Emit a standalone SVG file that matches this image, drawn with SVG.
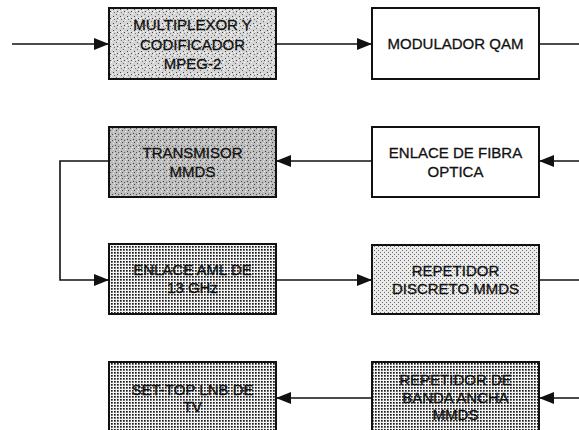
<svg xmlns="http://www.w3.org/2000/svg" width="579" height="430" viewBox="0 0 579 430">
<style>
.box{stroke:#111;stroke-width:2}
.t{font-family:"Liberation Sans",Arial,sans-serif;font-size:15px;fill:#111;stroke:#111;stroke-width:0.3;text-anchor:middle}
.c{fill:none;stroke:#111;stroke-width:1.6}
</style>
<defs>
<pattern id="stip1" width="7" height="7" patternUnits="userSpaceOnUse">
<rect width="7" height="7" fill="#d6d6d6"/>
<rect x="1" y="2" width="1" height="1" fill="#444"/>
<rect x="4" y="0" width="1" height="1" fill="#666"/>
<rect x="5" y="4" width="1" height="1" fill="#444"/>
<rect x="2" y="5" width="1" height="1" fill="#777"/>
<rect x="6" y="6" width="1" height="1" fill="#fff"/>
<rect x="0" y="4" width="1" height="1" fill="#fff"/>
<rect x="3" y="3" width="1" height="1" fill="#fff"/>
</pattern>
<pattern id="stip2" width="6" height="6" patternUnits="userSpaceOnUse">
<rect width="6" height="6" fill="#bdbdbd"/>
<rect x="1" y="1" width="1" height="1" fill="#444"/>
<rect x="4" y="2" width="1" height="1" fill="#555"/>
<rect x="2" y="4" width="1" height="1" fill="#444"/>
<rect x="5" y="5" width="1" height="1" fill="#eee"/>
<rect x="0" y="3" width="1" height="1" fill="#eee"/>
</pattern>
<pattern id="grid" width="3" height="3" patternUnits="userSpaceOnUse">
<rect width="3" height="3" fill="#f4f4f4"/>
<rect x="0" y="0" width="1.7" height="1.7" fill="#1a1a1a"/>
</pattern>
<pattern id="light" width="4" height="4" patternUnits="userSpaceOnUse">
<rect width="4" height="4" fill="#ebebeb"/>
<rect x="0" y="0" width="1" height="1" fill="#666"/>
<rect x="2" y="2" width="1" height="1" fill="#666"/>
</pattern>
<marker id="ah" viewBox="0 0 15 12" refX="15" refY="6" markerWidth="15" markerHeight="12" markerUnits="userSpaceOnUse" orient="auto">
<path d="M0,0 L15,6 L0,12 Z" fill="#111"/>
</marker>
</defs>
<g id="connectors">
<line class="c" x1="12" y1="44" x2="109" y2="44" marker-end="url(#ah)"/>
<line class="c" x1="276" y1="44" x2="372" y2="44" marker-end="url(#ah)"/>
<line class="c" x1="539" y1="44" x2="579" y2="44"/>
<line class="c" x1="579" y1="161" x2="539" y2="161" marker-end="url(#ah)"/>
<line class="c" x1="372" y1="161" x2="276" y2="161" marker-end="url(#ah)"/>
<polyline class="c" points="109,161 60,161 60,280 109,280" marker-end="url(#ah)"/>
<line class="c" x1="276" y1="280" x2="372" y2="280" marker-end="url(#ah)"/>
<line class="c" x1="539" y1="280" x2="579" y2="280"/>
<line class="c" x1="579" y1="398" x2="539" y2="398" marker-end="url(#ah)"/>
<line class="c" x1="372" y1="398" x2="276" y2="398" marker-end="url(#ah)"/>
</g>
<g id="mux">
<rect class="box" x="109" y="8" width="167" height="71" fill="url(#stip1)"/>
<text class="t" x="192.5" y="30">MULTIPLEXOR Y</text>
<text class="t" x="192.5" y="50">CODIFICADOR</text>
<text class="t" x="192.5" y="69">MPEG-2</text>
</g>
<g id="qam">
<rect class="box" x="372" y="8" width="167" height="71" fill="#fff"/>
<text class="t" x="455.5" y="49">MODULADOR QAM</text>
</g>
<g id="transmisor">
<rect class="box" x="109" y="127" width="167" height="70" fill="url(#stip2)"/>
<text class="t" x="192.5" y="158">TRANSMISOR</text>
<text class="t" x="192.5" y="177">MMDS</text>
</g>
<g id="fibra">
<rect class="box" x="372" y="127" width="167" height="70" fill="#fff"/>
<text class="t" x="455.5" y="158">ENLACE DE FIBRA</text>
<text class="t" x="455.5" y="177">OPTICA</text>
</g>
<g id="aml">
<rect class="box" x="109" y="244" width="167" height="70" fill="url(#grid)"/>
<text class="t" x="192.5" y="275">ENLACE AML DE</text>
<text class="t" x="192.5" y="293">13 GHz</text>
</g>
<g id="discreto">
<rect class="box" x="372" y="245" width="167" height="69" fill="url(#light)"/>
<text class="t" x="455.5" y="276">REPETIDOR</text>
<text class="t" x="455.5" y="294">DISCRETO MMDS</text>
</g>
<g id="settop">
<rect class="box" x="109" y="362" width="167" height="80" fill="url(#grid)"/>
<text class="t" x="192.5" y="395">SET-TOP LNB DE</text>
<text class="t" x="192.5" y="412">TV</text>
</g>
<g id="banda">
<rect class="box" x="372" y="362" width="167" height="80" fill="url(#grid)"/>
<text class="t" x="455.5" y="385">REPETIDOR DE</text>
<text class="t" x="455.5" y="403">BANDA ANCHA</text>
<text class="t" x="455.5" y="420">MMDS</text>
</g>
</svg>
